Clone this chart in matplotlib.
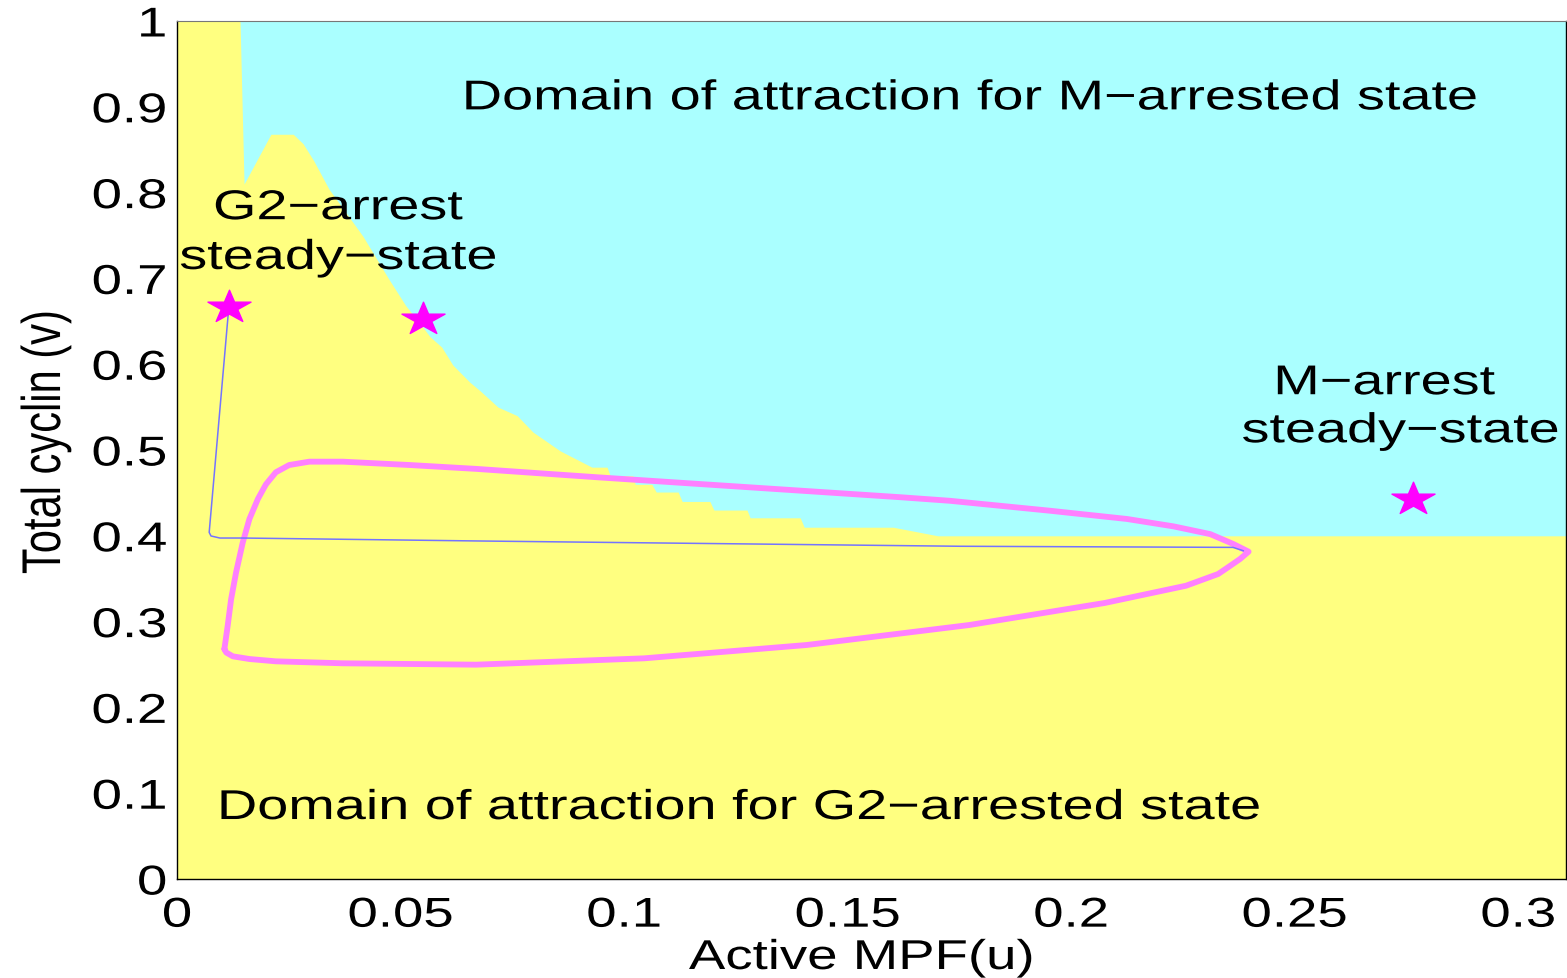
import numpy as np
import matplotlib
matplotlib.use("Agg")
import matplotlib.pyplot as plt
from matplotlib.path import Path
from matplotlib.patheffects import AbstractPathEffect
from matplotlib.transforms import Affine2D

plt.rcParams['font.family'] = ['Liberation Sans', 'DejaVu Sans']

# separatrix between the two basins (upper edge of the G2 basin)
sep_u = [0.0, 0.0141, 0.0150, 0.0210, 0.0260, 0.0282, 0.0306, 0.0340, 0.0416,
         0.0474, 0.0512, 0.0540, 0.0566, 0.0592, 0.0617, 0.0655, 0.0678, 0.0718,
         0.0761, 0.0796, 0.0857, 0.0928, 0.0962, 0.0969, 0.1020, 0.1025, 0.1062,
         0.1072, 0.1121, 0.1130, 0.1192, 0.1201, 0.1275, 0.1282, 0.1394, 0.1403,
         0.1602, 0.1702, 0.3107]
sep_v = [1.0, 1.0, 0.810, 0.868, 0.868, 0.857, 0.837, 0.804, 0.749,
         0.699, 0.668, 0.650, 0.632, 0.620, 0.599, 0.579, 0.569, 0.550,
         0.540, 0.521, 0.499, 0.480, 0.480, 0.470, 0.470, 0.460, 0.460,
         0.451, 0.451, 0.440, 0.440, 0.430, 0.430, 0.421, 0.421, 0.410,
         0.410, 0.400, 0.400]

# limit cycle
cyc_u = [0.0106, 0.01134, 0.0121, 0.0132, 0.0147, 0.0162, 0.0181, 0.0199, 0.0221,
         0.0251, 0.0296, 0.0371, 0.0520, 0.0669, 0.0946, 0.1617, 0.1729, 0.1953,
         0.2125, 0.2229, 0.2311, 0.2363, 0.2397, 0.2378, 0.2351, 0.2329, 0.2257,
         0.2075, 0.1772, 0.1408, 0.1045, 0.0669, 0.0371, 0.0221, 0.0162, 0.0125,
         0.0110, 0.0106]
cyc_v = [0.268, 0.2952, 0.326, 0.357, 0.392, 0.4196, 0.443, 0.460, 0.474,
         0.4825, 0.4864, 0.4864, 0.4825, 0.478, 0.468, 0.445, 0.4408, 0.4292,
         0.4196, 0.411, 0.402, 0.3904, 0.3815, 0.373, 0.3633, 0.3555, 0.3418,
         0.3217, 0.296, 0.2727, 0.2572, 0.2498, 0.2514, 0.2537, 0.2564, 0.2595,
         0.264, 0.268]

# trajectory leaving the G2 steady state
traj_u = [0.0116, 0.0072, 0.0076, 0.0096, 0.0147, 0.0669, 0.0946, 0.1752, 0.2362, 0.2385]
traj_v = [0.667, 0.404, 0.3998, 0.3974, 0.3974, 0.394, 0.3924, 0.3878, 0.3865, 0.3826]

# steady states
ss_u = [0.0116, 0.0550, 0.2765]
ss_v = [0.667, 0.6527, 0.4429]

xticks = [0, 0.05, 0.1, 0.15, 0.2, 0.25, 0.3]
xtick_labels = ['0', '0.05', '0.1', '0.15', '0.2', '0.25', '0.3']
yticks = [0, 0.1, 0.2, 0.3, 0.4, 0.5, 0.6, 0.7, 0.8, 0.9, 1.0]
ytick_labels = ['0', '0.1', '0.2', '0.3', '0.4', '0.5', '0.6', '0.7', '0.8', '0.9', '1']

SX = 1.31  # horizontal widening of glyphs


class Widen(AbstractPathEffect):
    """Stretch a text's glyphs horizontally about its anchor point."""

    def __init__(self, text, sx=SX):
        super().__init__()
        self.text = text
        self.sx = sx

    def draw_path(self, renderer, gc, tpath, affine, rgbFace=None):
        px = self.text.get_transform().transform(self.text.get_position())[0]
        stretch = Affine2D().translate(-px, 0).scale(self.sx, 1).translate(px, 0)
        renderer.draw_path(gc, tpath, affine + stretch, rgbFace)


# five-pointed star, widened like the text
ang = np.pi / 2 + np.arange(10) * np.pi / 5
rad = np.where(np.arange(10) % 2 == 0, 1.0, 0.381966)
sv = np.c_[SX * rad * np.cos(ang), rad * np.sin(ang)]
star = Path(np.vstack([sv, sv[:1]]), closed=True)

fig = plt.figure(figsize=(15.67, 9.79), dpi=100)
ax = fig.add_axes([177 / 1567, 99 / 979, 1389 / 1567, 858 / 979])
ax.set_facecolor('#aaffff')

ax.fill_between(sep_u, 0, sep_v, color='#ffff80', lw=0, zorder=1)
ax.plot(cyc_u, cyc_v, color='#ff80ff', lw=4.2, zorder=3,
        solid_joinstyle='round', solid_capstyle='round')
ax.plot(traj_u, traj_v, color='#7474ff', lw=1.1, zorder=4)
ax.plot(ss_u, ss_v, ls='none', marker=star, ms=31, color='#ff00ff', mec='#ff00ff', zorder=5)

ax.set_xlim(0, 0.3107)
ax.set_ylim(0, 1)
ax.set_xticks(xticks, labels=xtick_labels)
ax.set_yticks(yticks, labels=ytick_labels)
ax.tick_params(length=0, labelsize=30)
ax.tick_params(axis='x', pad=12)
ax.tick_params(axis='y', pad=7)

for side in ['left', 'bottom', 'right']:
    ax.spines[side].set_color('black')
    ax.spines[side].set_linewidth(1.0)
ax.spines['top'].set_color('#777777')
ax.spines['top'].set_linewidth(0.8)

ax.set_xlabel('Active MPF(u)', fontsize=30, va='baseline')
ax.xaxis.set_label_coords(0.4928, -0.1049)
ax.set_ylabel('Total cyclin (v)', fontsize=30, va='baseline')
ax.yaxis.set_label_coords(-0.0842, 0.509)

notes = [
    ax.text(0.1772, 0.897, 'Domain of attraction for M\u2212arrested state', fontsize=30, ha='center', va='baseline', zorder=6),
    ax.text(0.0360, 0.769, 'G2\u2212arrest', fontsize=30, ha='center', va='baseline', zorder=6),
    ax.text(0.0360, 0.711, 'steady\u2212state', fontsize=30, ha='center', va='baseline', zorder=6),
    ax.text(0.2700, 0.565, 'M\u2212arrest', fontsize=30, ha='center', va='baseline', zorder=6),
    ax.text(0.2736, 0.509, 'steady\u2212state', fontsize=30, ha='center', va='baseline', zorder=6),
    ax.text(0.1256, 0.0699, 'Domain of attraction for G2\u2212arrested state', fontsize=30, ha='center', va='baseline', zorder=6),
]

for t in ax.get_xticklabels() + ax.get_yticklabels() + [ax.xaxis.label, ax.yaxis.label]:
    t.set_path_effects([Widen(t)])
for t in notes:
    t.set_path_effects([Widen(t, 1.34)])

fig.savefig('out.png', dpi=100)
